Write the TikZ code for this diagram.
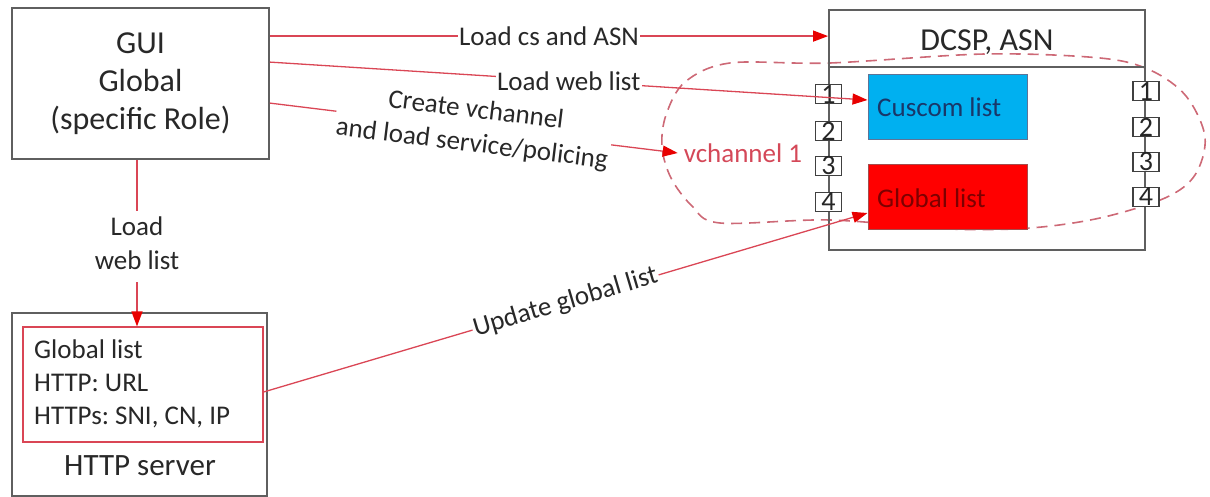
\documentclass[tikz,border=0pt]{standalone}
\usepackage{fontspec}
\setmainfont{Carlito}
\usetikzlibrary{arrows.meta}
\definecolor{lred}{RGB}{218,70,85}
\definecolor{ared}{RGB}{232,0,0}
\definecolor{dred}{RGB}{205,105,118}
\definecolor{bgray}{RGB}{95,95,95}
\definecolor{txt}{RGB}{40,40,40}
\definecolor{cusblue}{RGB}{0,176,240}
\definecolor{cusnavy}{RGB}{25,55,105}
\definecolor{glred}{RGB}{255,0,0}
\definecolor{gltxt}{RGB}{125,0,0}
\definecolor{vchred}{RGB}{212,72,88}
\newcommand{\mylinesc}[1]{\begin{tabular}{@{}c@{}}#1\end{tabular}}
\newcommand{\mylinesl}[1]{\begin{tabular}{@{}l@{}}#1\end{tabular}}
\frenchspacing
\begin{document}
\begin{tikzpicture}[x=1pt,y=-1pt,
  box/.style={draw=bgray,line width=1.8pt,inner sep=0pt},
  conn/.style={draw=lred,line width=1.3pt,-{Triangle[length=15pt,width=11pt,color=ared]}},
  lab/.style={fill=white,inner sep=1.5pt,text=txt,font=\fontsize{27}{34}\selectfont},
  portbox/.style={draw=black!75,fill=white,line width=1.1pt,minimum width=26pt,minimum height=19pt,inner sep=0pt,text=black!85,font=\fontsize{28}{28}\selectfont},
  listbox/.style={line width=1pt,minimum width=159pt,minimum height=65pt,inner sep=0pt,font=\fontsize{27}{27}\selectfont}
]
\useasboundingbox (0,0) rectangle (1210,497);

% dashed vchannel loop
\draw[dred,line width=1.6pt,dash pattern=on 11pt off 7pt] plot[smooth cycle,tension=0.55] coordinates {
  (730,63) (830,63) (985,54) (1100,58) (1150,70) (1186,96) (1205,137) (1195,175) (1165,198) (1100,218) (1030,228) (950,229) (830,220) (720,223) (692,206) (671,178) (662,147) (666,115) (685,82)};

% GUI box
\node[box,minimum width=257pt,minimum height=151pt,text=txt,font=\fontsize{32}{38}\selectfont] (gui) at (140.5,83.5) {\mylinesc{GUI\\Global\\(specific Role)}};

% DCSP box
\node[box,minimum width=316pt,minimum height=240pt] (dcsp) at (987,130) {};
\draw[bgray,line width=1.8pt] ([yshift=-58pt]dcsp.north west) -- ([yshift=-58pt]dcsp.north east);
\node[text=txt,font=\fontsize{32}{32}\selectfont] (dcsptitle) at (987,42) {DCSP, ASN};

\node[listbox,draw=cusnavy!70,fill=cusblue] (cuscom) at (947.5,107.5) {};
\node[anchor=west,text=cusnavy,font=\fontsize{27}{27}\selectfont,inner sep=0pt] (cuscomtxt) at (877,107) {Cuscom list};
\node[listbox,draw=gltxt!70,fill=glred] (globl) at (947.5,197.5) {};
\node[anchor=west,text=gltxt,font=\fontsize{27}{27}\selectfont,inner sep=0pt] (globltxt) at (877,198) {Global list};

% ports
\node[portbox] (pl1) at (828.5,94) {1};
\node[portbox] (pl2) at (828.5,131) {2};
\node[portbox] (pl3) at (828.5,166) {3};
\node[portbox] (pl4) at (828.5,202) {4};
\node[portbox] (pr1) at (1146,91) {1};
\node[portbox] (pr2) at (1146,127) {2};
\node[portbox] (pr3) at (1146,162) {3};
\node[portbox] (pr4) at (1146,197) {4};

% vchannel label
\node[text=vchred,font=\fontsize{27}{27}\selectfont,inner sep=6pt] (vch) at (743,153) {vchannel 1};

% HTTP server
\node[box,minimum width=255pt,minimum height=183pt] (http) at (139.5,404.5) {};
\node[draw=lred,line width=1.2pt,minimum width=240pt,minimum height=115pt,inner sep=0pt] (inner) at (143,384.5) {};
\node[anchor=west,text=txt,font=\fontsize{27}{33}\selectfont,inner sep=0pt] (innertxt) at (34,385) {\mylinesl{Global list\\HTTP: URL\\HTTPs: SNI, CN, IP}};
\node[text=txt,font=\fontsize{31}{31}\selectfont] (httplab) at (140,466) {HTTP server};

% connectors
\draw[conn] ([yshift=-29pt]gui.north east) -- node[lab]{Load cs and ASN} ([yshift=-27pt]dcsp.north west);
\draw[conn] ([yshift=-55pt]gui.north east) -- node[lab]{Load web list} ([yshift=7.5pt]cuscom.west);
\draw[conn] ([yshift=-96pt]gui.north east) -- node[lab,rotate=-7]{\mylinesc{Create vchannel\\and load service/policing}} (vch.west);
\draw[conn] ([xshift=-3.5pt]gui.south) -- node[lab,yshift=-3pt]{\mylinesc{Load\\web list}} ([xshift=-3.5pt]gui.south |- inner.north);
\draw[conn] ([yshift=-7.5pt]inner.east) -- node[lab,rotate=16.5]{Update global list} ([yshift=-15.5pt]globl.west);
\end{tikzpicture}
\end{document}
